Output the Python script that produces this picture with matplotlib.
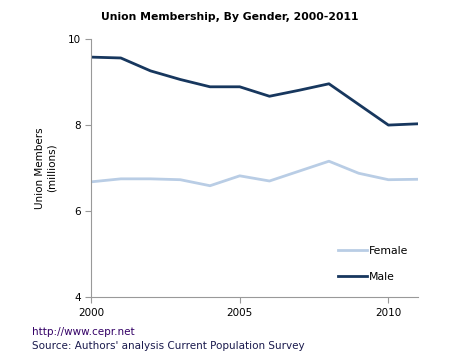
import numpy as np
import matplotlib.pyplot as plt

years = np.arange(2000, 2012)
female = [6.68, 6.75, 6.75, 6.73, 6.59, 6.82, 6.70, 6.93, 7.16, 6.88, 6.73, 6.74]
male = [9.58, 9.56, 9.26, 9.06, 8.89, 8.89, 8.67, 8.81, 8.96, 8.48, 8.00, 8.03]

plt.rcParams['font.family'] = ['DejaVu Sans']

fig = plt.figure(figsize=(4.6, 3.55), dpi=100)
ax = fig.add_axes([0.198, 0.163, 0.711, 0.727])

ax.plot(years, female, color='#b9cde5', lw=2, label='Female')
ax.plot(years, male, color='#17375e', lw=2, label='Male')

ax.set_xlim(2000, 2011)
ax.set_ylim(4, 10)
ax.set_xticks([2000, 2005, 2010])
ax.set_yticks([4, 6, 8, 10])
for s in ['top', 'right']:
    ax.spines[s].set_visible(False)
for s in ['left', 'bottom']:
    ax.spines[s].set_color('#999999')
ax.tick_params(colors='#999999', labelcolor='black', labelsize=7.5, length=4, direction='out')

ax.set_ylabel('Union Members\n(millions)', fontsize=7.5, labelpad=8)
fig.suptitle('Union Membership, By Gender, 2000-2011', fontsize=7.8, fontweight='bold', y=0.965)

ax.legend(loc='lower right', bbox_to_anchor=(1.0, 0.022), frameon=False, fontsize=7.8,
          handlelength=2.7, labelspacing=1.45, handletextpad=0.2)

fig.text(0.07, 0.055, 'http://www.cepr.net', fontsize=7.5, color='#330066')
fig.text(0.07, 0.018, "Source: Authors' analysis Current Population Survey", fontsize=7.5, color='#1a1a4d')

fig.savefig('out.png', dpi=100)
